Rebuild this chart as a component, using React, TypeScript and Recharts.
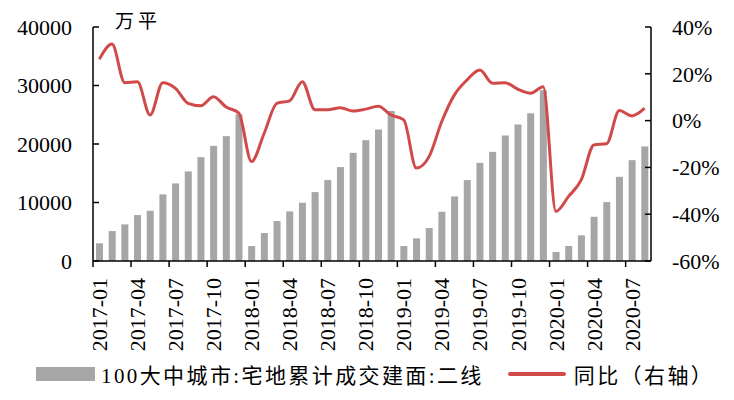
import React from "react";
import { Bar, ComposedChart, Line, XAxis, YAxis } from "recharts";

const months = [
  "2017-01", "2017-02", "2017-03", "2017-04", "2017-05", "2017-06",
  "2017-07", "2017-08", "2017-09", "2017-10", "2017-11", "2017-12",
  "2018-01", "2018-02", "2018-03", "2018-04", "2018-05", "2018-06",
  "2018-07", "2018-08", "2018-09", "2018-10", "2018-11", "2018-12",
  "2019-01", "2019-02", "2019-03", "2019-04", "2019-05", "2019-06",
  "2019-07", "2019-08", "2019-09", "2019-10", "2019-11", "2019-12",
  "2020-01", "2020-02", "2020-03", "2020-04", "2020-05", "2020-06",
  "2020-07", "2020-08",
];

// 100大中城市:宅地累计成交建面:二线 (万平)
const area = [
  3020, 5120, 6260, 7850, 8590, 11390, 13260, 15310, 17750, 19680, 21340, 25090,
  2560, 4780, 6830, 8480, 9950, 11780, 13830, 16050, 18490, 20650, 22480, 25660,
  2560, 3870, 5630, 8420, 11040, 13830, 16780, 18660, 21460, 23330, 25260, 29190,
  1540, 2560, 4380, 7560, 10070, 14390, 17240, 19580,
];

// 同比 (%)
const yoy = [
  26.2, 32.7, 16.2, 16.6, 2.4, 16.2, 13.8, 7.4, 6.3, 10.2, 5.8, 3.2,
  -17.5, -5.4, 7.4, 8.4, 16.6, 4.6, 4.6, 5.5, 4.1, 4.9, 6.1, 2.4,
  0.3, -20.3, -15.4, -0.4, 11, 17.4, 21.6, 16, 16.2, 13.4, 11.7, 14.5,
  -38.8, -32.4, -25.3, -10.4, -9.9, 4.3, 2.0, 5.3,
];

const leftTicks = [0, 10000, 20000, 30000, 40000];
const rightTicks = [-60, -40, -20, 0, 20, 40];

const data = months.map((m, i) => ({ month: m, area: area[i], yoy: yoy[i] }));

const W = 734;
const H = 400;
const PLOT_LEFT = 93;
const PLOT_RIGHT = 651;
const BAND = (PLOT_RIGHT - PLOT_LEFT) / months.length;

const NUM_FONT = "'Liberation Serif', 'Times New Roman', serif";
const CJK_FONT = "'Liberation Serif', 'Noto Sans CJK SC', serif";
const BAR_COLOR = "#a6a6a6";
const LINE_COLOR = "#d14a4a";

const LeftTick = (props: any) => {
  const { x, y, payload } = props;
  return (
    <g>
      <line x1={x} x2={x + 6} y1={y} y2={y} stroke="#000" strokeWidth={1.5} />
      <text x={x - 21} y={y} dy="0.35em" textAnchor="end" fontSize={22} fontFamily={NUM_FONT} fill="#000">
        {payload.value}
      </text>
    </g>
  );
};

const RightTick = (props: any) => {
  const { x, y, payload } = props;
  return (
    <g>
      <line x1={x} x2={x - 6} y1={y} y2={y} stroke="#000" strokeWidth={1.5} />
      <text x={x + 21} y={y} dy="0.35em" textAnchor="start" fontSize={22} fontFamily={NUM_FONT} fill="#000">
        {payload.value}%
      </text>
    </g>
  );
};

const MonthTick = (props: any) => {
  const { x, y, payload } = props;
  const tx = x - BAND / 2;
  const ly = y + 17;
  return (
    <g>
      <line x1={tx} x2={tx} y1={y} y2={y + 6} stroke="#000" strokeWidth={1.5} />
      <text
        x={x}
        y={ly}
        dy="0.35em"
        textAnchor="end"
        transform={`rotate(-90, ${x}, ${ly})`}
        fontSize={22}
        fontFamily={NUM_FONT}
        fill="#000"
      >
        {payload.value}
      </text>
    </g>
  );
};

export default function App() {
  return (
    <div style={{ position: "absolute", left: 0, top: 0, width: W, height: H, background: "#fff" }}>
      <ComposedChart
        width={W}
        height={H}
        data={data}
        margin={{ top: 27, right: 0, bottom: 39, left: 0 }}
      >
        <XAxis
          dataKey="month"
          interval={2}
          height={100}
          tickSize={0}
          tickMargin={0}
          tickLine={false}
          tick={MonthTick}
          axisLine={{ stroke: "#000", strokeWidth: 1.5 }}
        />
        <YAxis
          yAxisId="left"
          width={PLOT_LEFT}
          domain={[0, 40000]}
          ticks={leftTicks}
          tickSize={0}
          tickMargin={0}
          tickLine={false}
          tick={LeftTick}
          axisLine={{ stroke: "#000", strokeWidth: 1.5 }}
        />
        <YAxis
          yAxisId="right"
          orientation="right"
          width={W - PLOT_RIGHT}
          domain={[-60, 40]}
          ticks={rightTicks}
          tickSize={0}
          tickMargin={0}
          tickLine={false}
          tick={RightTick}
          axisLine={{ stroke: "#000", strokeWidth: 1.5 }}
        />
        <Bar yAxisId="left" dataKey="area" fill={BAR_COLOR} barSize={7} isAnimationActive={false} />
        <Line
          yAxisId="right"
          type="monotone"
          dataKey="yoy"
          stroke={LINE_COLOR}
          strokeWidth={3}
          dot={false}
          isAnimationActive={false}
        />
      </ComposedChart>

      <div
        style={{
          position: "absolute",
          left: 115,
          top: 6,
          fontSize: 19,
          letterSpacing: 4,
          fontFamily: CJK_FONT,
          color: "#000",
        }}
      >
        万平
      </div>

      <div
        style={{
          position: "absolute",
          left: 36,
          top: 360,
          height: 28,
          display: "flex",
          alignItems: "center",
          fontSize: 21,
          fontFamily: CJK_FONT,
          color: "#000",
          whiteSpace: "nowrap",
        }}
      >
        <span style={{ display: "inline-block", width: 59, height: 14, background: BAR_COLOR, marginRight: 6 }} />
        <span style={{ letterSpacing: 2.4 }}>100大中城市:宅地累计成交建面:二线</span>
        <span
          style={{
            display: "inline-block",
            width: 58,
            height: 4,
            background: LINE_COLOR,
            borderRadius: 2,
            marginLeft: 24,
            marginRight: 8,
          }}
        />
        <span style={{ letterSpacing: 2.4 }}>同比（右轴）</span>
      </div>
    </div>
  );
}
